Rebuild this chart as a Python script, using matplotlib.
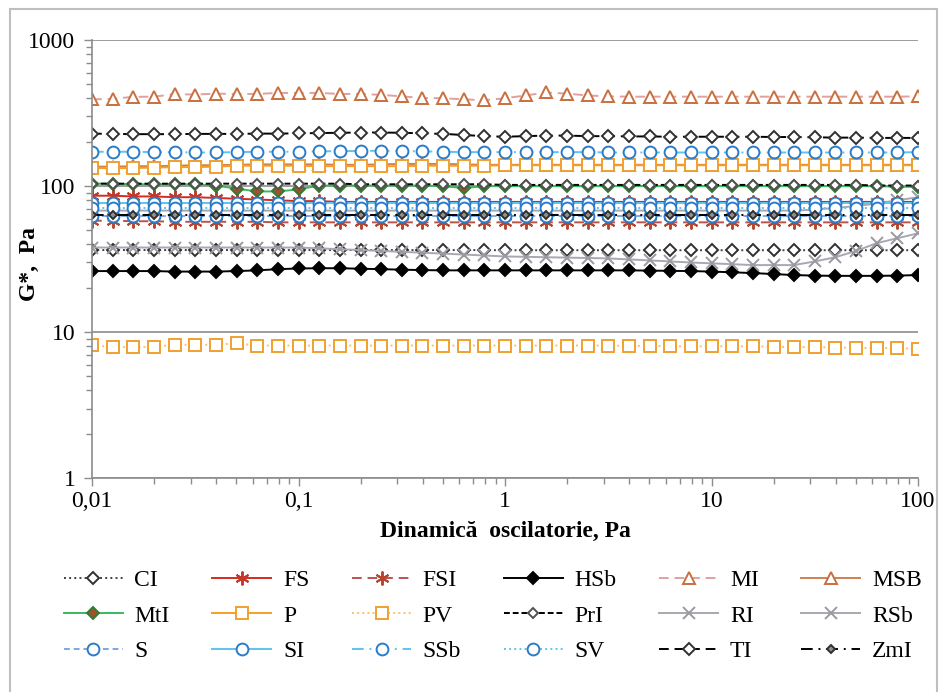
import matplotlib
matplotlib.use("Agg")
import matplotlib.pyplot as plt
from matplotlib.patches import Rectangle
from matplotlib.ticker import LogLocator, NullFormatter

plt.rcParams["font.family"] = ["Liberation Serif", "DejaVu Serif"]

# Oscillation stress, Pa (10 points per decade)
stress = [0.01, 0.0126, 0.0158, 0.02, 0.0251, 0.0316, 0.0398, 0.0501, 0.0631, 0.0794,
          0.1, 0.126, 0.158, 0.2, 0.251, 0.316, 0.398, 0.501, 0.631, 0.794,
          1, 1.26, 1.58, 2, 2.51, 3.16, 3.98, 5.01, 6.31, 7.94,
          10, 12.6, 15.8, 20, 25.1, 31.6, 39.8, 50.1, 63.1, 79.4, 100]

labels = ["CI", "FS", "FSI", "HSb", "MI", "MSB",
          "MtI", "P", "PV", "PrI", "RI", "RSb",
          "S", "SI", "SSb", "SV", "TI", "ZmI"]

CI = [36.5] * 20 + [36.4] * 21
FS = [86, 86, 85, 85, 84, 84, 83, 82, 81, 80, 79, 79, 78, 78, 78, 78, 78, 78, 78, 78,
      78, 78, 78, 78, 78, 78, 78, 78, 78, 78, 78, 78, 78, 78, 78, 78, 78, 78, 78, 78, 78]
FSI = [58, 58, 57.5, 57.5, 57, 57, 57, 57, 57, 56.5, 56.5, 56.5, 56.5, 56.5, 56.5, 56.5, 56.5, 56.5, 56.5, 56.5,
       56.5, 56.5, 56.5, 56.5, 56.5, 56.5, 56.5, 56.5, 56.5, 56.5, 56.5, 56.5, 56.5, 56.5, 56.5, 56.5, 56.5, 56.5, 56.5, 56.5, 56.5]
HSb = [26.2, 26.2, 26.2, 26.2, 26.0, 26.0, 26.0, 26.2, 26.5, 27.0, 27.3, 27.4, 27.4, 27.2, 27.0, 26.8, 26.6, 26.5, 26.5, 26.5,
       26.5, 26.5, 26.5, 26.5, 26.5, 26.5, 26.5, 26.4, 26.3, 26.2, 26.0, 25.7, 25.4, 25.0, 24.6, 24.4, 24.3, 24.3, 24.3, 24.4, 24.6]
MI = [393, 396, 409, 410, 427, 424, 430, 428, 428, 435, 435, 435, 428, 428, 422, 412, 402, 400, 393, 388,
      400, 418, 438, 430, 418, 412, 410, 410, 410, 410, 410, 410, 410, 410, 410, 410, 410, 410, 410, 410, 412]
MSB = [136, 136, 137, 137, 138, 139, 139, 140, 141, 141, 141, 141, 140, 140, 141, 142, 142, 142, 141, 140,
       140, 140, 140, 140, 140, 140, 140, 140, 140, 140, 140, 140, 140, 140, 140, 140, 140, 140, 140, 140, 140]
MtI = [104, 104, 103, 103, 103, 103, 101, 96, 92, 92, 95, 101, 101, 101, 101, 101, 101, 100, 97, 100,
       100, 100, 100, 100, 100, 100, 100, 100, 100, 100, 100, 100, 100, 100, 100, 100, 100, 100, 100, 99, 99]
P = [133, 133, 133, 134, 135, 135, 136, 138, 138, 138, 138, 137, 137, 137, 137, 137, 138, 138, 138, 138,
     139, 139, 139, 139, 139, 139, 139, 139, 139, 139, 139, 139, 139, 139, 139, 139, 139, 139, 139, 139, 139]
PV = [8.15, 7.9, 7.9, 7.95, 8.2, 8.2, 8.2, 8.4, 8.1, 8.1, 8.1, 8.1, 8.1, 8.1, 8.1, 8.1, 8.1, 8.1, 8.1, 8.1,
      8.1, 8.1, 8.1, 8.1, 8.1, 8.1, 8.05, 8.05, 8.0, 8.0, 8.0, 8.0, 8.0, 7.95, 7.9, 7.9, 7.85, 7.8, 7.8, 7.75, 7.7]
PrI = [104, 104, 104, 104, 104, 104, 104, 104, 104, 104, 104, 104, 104, 103, 103, 103, 103, 103, 103, 103,
       102, 102, 102, 102, 102, 102, 102, 102, 102, 102, 102, 102, 102, 102, 102, 102, 102, 102, 101, 101, 101]
RI = [38, 38, 38, 38, 38, 38, 38, 38, 38, 38, 38, 37.5, 37, 36.5, 36, 35.5, 35, 34.5, 34, 33.5,
      33, 32.8, 32.6, 32.4, 32.2, 32, 31.5, 31, 30.5, 30, 29.6, 29.2, 28.8, 28.8, 28.8, 30.5, 32.6, 36, 40.7, 44, 47.5]
RSb = [68, 68, 68, 68, 68, 68, 68, 68, 68, 68, 68, 68, 68, 68, 68, 68, 68, 68, 68, 68,
       68, 68, 68, 68, 68, 68, 68, 68, 68, 68, 68, 68, 68, 68, 68, 69, 71, 73, 76, 80, 84]
S = [62, 62, 62, 62, 62, 62, 62, 62, 62, 62, 62, 62, 62, 62, 62, 62, 62, 62, 62, 62,
     62, 62, 62, 62, 62, 62, 62, 62, 62, 62, 62, 62, 62, 62, 62, 62, 62, 62, 62, 62, 62]
SI = [77, 77, 77, 77, 77, 77, 77, 77, 77, 77, 77, 77, 77, 77, 77, 77, 77, 77, 77, 77,
      77, 77, 77, 77, 77, 77, 77, 77, 77, 77, 77, 77, 77, 77, 77, 77, 77, 77, 77, 77, 77]
SSb = [172, 172, 172, 171, 171, 170, 170, 171, 172, 172, 172, 173, 174, 174, 175, 174, 173, 172, 171, 171,
       171, 171, 171, 171, 171, 170, 170, 170, 170, 170, 170, 170, 170, 170, 170, 170, 170, 170, 170, 170, 171]
SV = [71, 71, 71, 71, 71, 71, 71, 71, 71, 71, 71, 71, 71, 71, 71, 71, 71, 71, 71, 71,
      71, 71, 71, 71, 71, 71, 71, 71, 71, 71, 71, 71, 71, 71, 71, 71, 71, 71, 71, 71, 71]
TI = [229, 228, 227, 227, 227, 228, 228, 228, 229, 229, 230, 231, 232, 233, 233, 232, 230, 228, 224, 220,
      218, 220, 222, 222, 220, 220, 219, 219, 218, 218, 218, 218, 218, 217, 217, 216, 215, 215, 214, 214, 214]
ZmI = [63, 63, 63, 63, 63, 63, 63, 63, 63, 63, 63, 63, 63, 63, 63, 63, 63, 63, 63, 63,
       63, 63, 63, 63, 63, 63, 63, 63, 63, 63, 63, 63, 63, 63, 63, 63, 63, 63, 63, 63, 63]

series = [CI, FS, FSI, HSb, MI, MSB, MtI, P, PV, PrI, RI, RSb, S, SI, SSb, SV, TI, ZmI]

ASTER = (6, 2, 0)
# color, linestyle, marker, marker face, marker edge, marker size
styles = {
    "CI": ("#404040", ":", "D", "white", "#303030", 6),
    "FS": ("#d42a20", "-", ASTER, "none", "#c0392b", 10),
    "FSI": ("#b85450", (0, (5, 3)), ASTER, "none", "#b5452e", 10),
    "HSb": ("black", "-", "D", "black", "black", 6.5),
    "MI": ("#e0a0a0", (0, (5, 3)), "^", "white", "#c87040", 8.5),
    "MSB": ("#d08050", "-", "^", "white", "#c87040", 8.5),
    "MtI": ("#3cb860", "-", "D", "#a0522d", "#2e7d32", 6.5),
    "P": ("#f5a020", "-", "s", "white", "#f0a030", 8.5),
    "PV": ("#f8c070", ":", "s", "white", "#f0a030", 8.5),
    "PrI": ("black", (0, (3, 1.5)), "D", "white", "#505050", 5),
    "RI": ("#a8a8b0", "-", "x", "none", "#9a9aa2", 9),
    "RSb": ("#a8a8b0", "-", "x", "none", "#9a9aa2", 9),
    "S": ("#7ea6e0", (0, (3, 2)), "o", "white", "#2a7bc8", 8.5),
    "SI": ("#5ec4f0", "-", "o", "white", "#2a7bc8", 8.5),
    "SSb": ("#5ec4f0", (0, (6, 3, 1, 3)), "o", "white", "#2a7bc8", 8.5),
    "SV": ("#5ec4f0", ":", "o", "white", "#2a7bc8", 8.5),
    "TI": ("black", (0, (5, 3)), "D", "white", "#303030", 6.5),
    "ZmI": ("black", (0, (6, 3, 1, 3)), "D", "#909090", "#303030", 4.5),
}


def main():
    fig = plt.figure(figsize=(9.44, 6.92), dpi=100)
    ax = fig.add_axes([0.0975, 0.309, 0.875, 0.633])

    handles = []
    for name, values in zip(labels, series):
        color, ls, marker, mfc, mec, ms = styles[name]
        (line,) = ax.plot(stress, values, color=color, linestyle=ls, linewidth=1.4,
                          marker=marker, markerfacecolor=mfc, markeredgecolor=mec,
                          markeredgewidth=1.4, markersize=ms, label=name)
        handles.append(line)

    ax.set_xscale("log")
    ax.set_yscale("log")
    ax.set_xlim(0.01, 100)
    ax.set_ylim(1, 1000)
    ax.set_xticks([0.01, 0.1, 1, 10, 100], ["0,01", "0,1", "1", "10", "100"])
    ax.set_yticks([1, 10, 100, 1000], ["1", "10", "100", "1000"])
    ax.xaxis.set_minor_locator(LogLocator(base=10, subs=range(2, 10)))
    ax.yaxis.set_minor_locator(LogLocator(base=10, subs=range(2, 10)))
    ax.xaxis.set_minor_formatter(NullFormatter())
    ax.yaxis.set_minor_formatter(NullFormatter())
    ax.tick_params(which="major", direction="out", length=6, width=1, color="#8c8c8c",
                   labelsize=17)
    ax.tick_params(axis="x", which="major", pad=3)
    ax.tick_params(axis="y", which="major", pad=6)
    ax.tick_params(which="minor", direction="out", length=4, width=1, color="#8c8c8c")
    ax.grid(axis="y", which="major", color="#8c8c8c", linewidth=1.2)
    for side in ("top", "right"):
        ax.spines[side].set_visible(False)
    for side in ("left", "bottom"):
        ax.spines[side].set_color("#8c8c8c")
        ax.spines[side].set_linewidth(1.2)

    ax.set_xlabel("Dinamică  oscilatorie, Pa", fontsize=17, fontweight="bold", labelpad=7)
    ax.set_ylabel("G*,  Pa", fontsize=17, fontweight="bold")
    ax.yaxis.set_label_coords(-0.063, 0.49)

    order = [r * 6 + c for c in range(6) for r in range(3)]
    fig.legend([handles[i] for i in order], [labels[i] for i in order], ncol=6,
               loc="upper center", bbox_to_anchor=(0.522, 0.208), frameon=False,
               fontsize=17, handlelength=2.5, columnspacing=1.8, handletextpad=0.5,
               labelspacing=0.6)

    fig.add_artist(Rectangle((0.011, -0.01), 0.982, 0.997, transform=fig.transFigure,
                             fill=False, edgecolor="#bfbfbf", linewidth=1.5))

    fig.savefig("out.png", dpi=100)
    plt.close(fig)


if __name__ == "__main__":
    main()
